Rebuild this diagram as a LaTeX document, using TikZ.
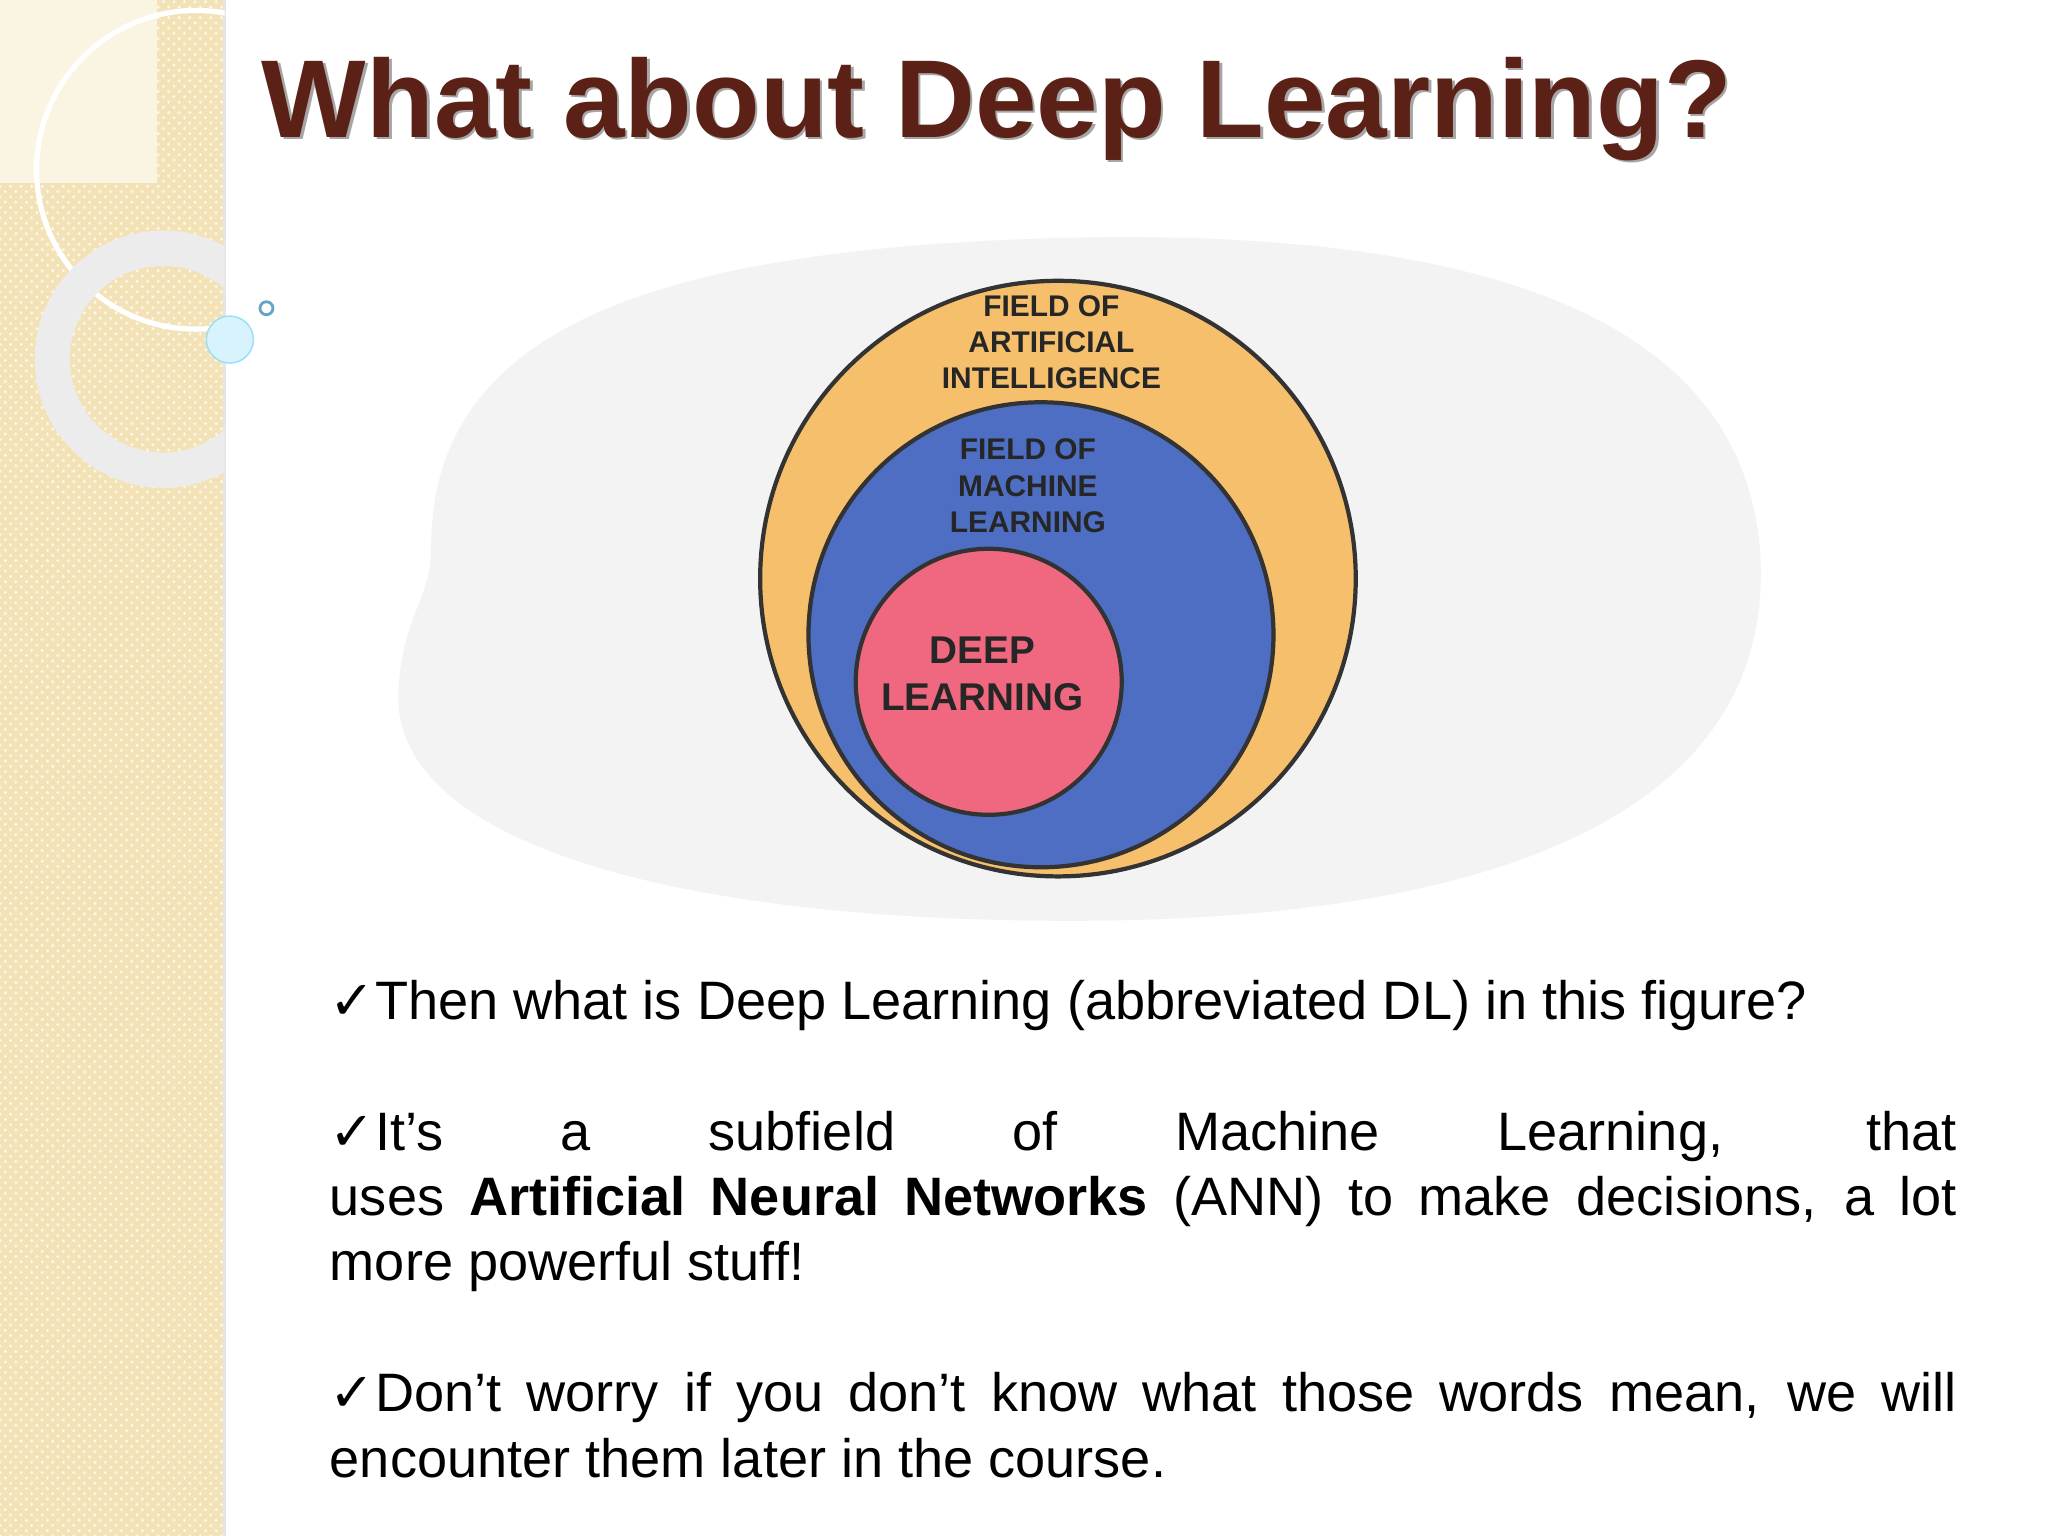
\documentclass[tikz,border=0pt]{standalone}
\usepackage{fontspec}
\setmainfont{Liberation Sans}
\newfontfamily\symf{DejaVu Sans}
\usetikzlibrary{patterns}
\definecolor{beige}{HTML}{F3E2B6}
\definecolor{titlec}{HTML}{5C2116}
\definecolor{aic}{HTML}{F5BF6B}
\definecolor{mlc}{HTML}{4D6EC2}
\definecolor{dlc}{HTML}{F0687F}
\definecolor{blob}{HTML}{F3F3F4}
\tikzset{lab/.style={font=\bfseries\fontsize{8.5}{10.3}\selectfont, align=center, text=black!85},
 ring/.style={draw=black!80, line width=1.2pt, circle, inner sep=0}}
\begin{document}
\begin{tikzpicture}[x=0.013061cm,y=-0.013061cm]
\useasboundingbox (0,0) rectangle (1568,1176);
\fill[white] (0,0) rectangle (1568,1176);
\fill[beige] (0,0) rectangle (172,1176);
\fill[pattern=crosshatch dots, pattern color=white!70!beige] (0,0) rectangle (172,1176);
\draw[black!10, line width=1pt] (172,0) -- (172,1176);
\begin{scope}
\clip (0,0) rectangle (172,1176);
\fill[white!60!beige] (0,0) rectangle (120,140);
\draw[white, line width=1.5pt] (150,130) circle (122);
\draw[white!85!gray, line width=10pt] (125,275) circle (85);
\end{scope}
\node[circle, inner sep=0pt, minimum size=0.47cm, fill=cyan!15, draw=cyan!40] (bub) at (176,260) {};
\node[circle, inner sep=0pt, minimum size=0.13cm, draw=cyan!50!gray, line width=0.8pt] (bub2) at (204,236) {};
% title
\node[anchor=base west, text=black!35, font=\bfseries\fontsize{31.5}{36}\selectfont, inner sep=0] (tsh) at (202,107) {What about Deep Learning?};
\node[anchor=base west, text=titlec, font=\bfseries\fontsize{31.5}{36}\selectfont, inner sep=0] (title) at (200,105) {What about Deep Learning?};
% blob
\fill[blob] (330,420) .. controls (330,260) and (480,190) .. (820,182)
 .. controls (1150,175) and (1340,250) .. (1348,430)
 .. controls (1355,620) and (1150,705) .. (820,705)
 .. controls (500,705) and (300,640) .. (305,530)
 .. controls (308,470) and (330,460) .. (330,420) -- cycle;
% circles
\node[ring, fill=aic, minimum size=5.956cm] (ai) at (810,443) {};
\node[ring, fill=mlc, minimum size=4.65cm] (ml) at (797,486) {};
\node[ring, fill=dlc, minimum size=2.66cm] (dl) at (757,522) {};
\node[lab] (ailab) at (805,262) {FIELD OF\\ARTIFICIAL\\INTELLIGENCE};
\node[lab] (mllab) at (787,372) {FIELD OF\\MACHINE\\LEARNING};
\node[lab, font=\bfseries\fontsize{11}{13.5}\selectfont] (dllab) at (752,516) {DEEP\\LEARNING};
% text
\node[anchor=north west, inner sep=0, text width=16.27cm, align=justify,
 font=\fontsize{15.4}{18.6}\selectfont] (body) at (252,750) {\hyphenpenalty=10000 \exhyphenpenalty=10000
{\symf\char"2713}Then what is Deep Learning (abbreviated DL) in this figure?\par\vspace{18.6pt}
{\symf\char"2713}It’s a subfield of Machine Learning, that\linebreak uses \textbf{Artificial Neural Networks} (ANN) to make decisions, a lot\linebreak more powerful stuff!\par\vspace{18.6pt}
{\symf\char"2713}Don’t worry if you don’t know what those words mean, we will encounter them later in the course.\par};
\end{tikzpicture}
\end{document}
